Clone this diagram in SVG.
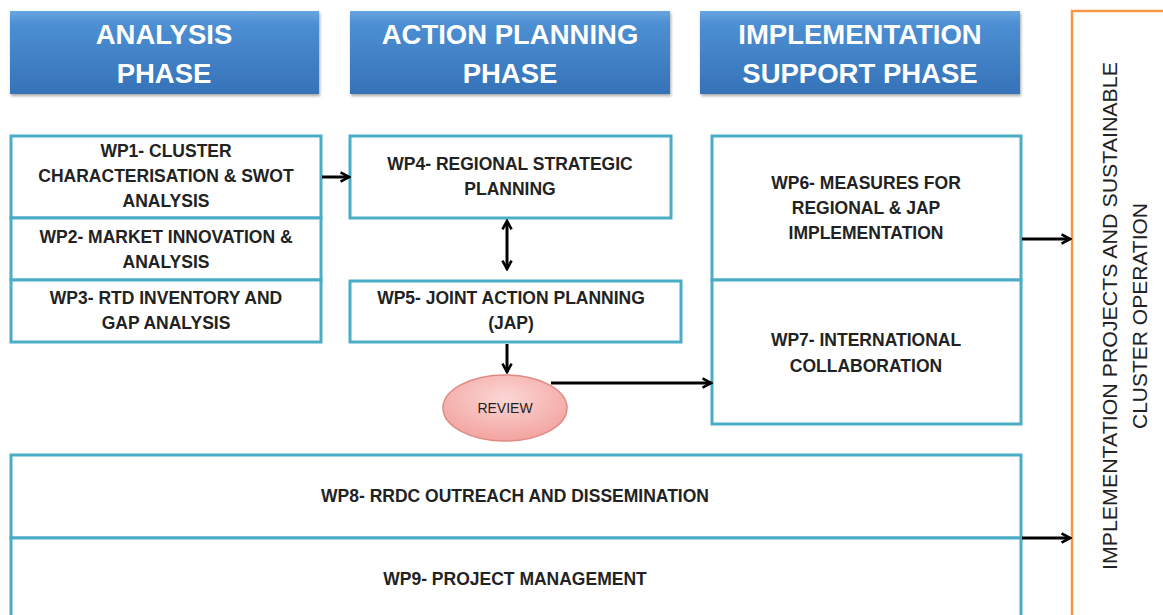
<svg xmlns="http://www.w3.org/2000/svg" width="1163" height="615" viewBox="0 0 1163 615">
<defs>
<linearGradient id="hg" x1="0" y1="0" x2="0" y2="1">
<stop offset="0" stop-color="#6aa6e0"/>
<stop offset="0.15" stop-color="#4d8fd3"/>
<stop offset="1" stop-color="#3572b8"/>
</linearGradient>
<radialGradient id="rg" cx="0.5" cy="0.35" r="0.7">
<stop offset="0" stop-color="#fbd6d4"/>
<stop offset="1" stop-color="#f2a09c"/>
</radialGradient>
<filter id="sh" x="-5%" y="-5%" width="110%" height="120%">
<feDropShadow dx="1" dy="2" stdDeviation="1.5" flood-color="#000" flood-opacity="0.35"/>
</filter>
<marker id="ah" viewBox="0 0 10 10" refX="8.5" refY="5" markerWidth="13" markerHeight="13" orient="auto-start-reverse" markerUnits="userSpaceOnUse">
<path d="M2,1.5 L8.5,5 L2,8.5" fill="none" stroke="#000" stroke-width="2"/>
</marker>
</defs>
<style>
.hdr{fill:url(#hg);filter:url(#sh)}
.ht{font-family:"Liberation Sans",Arial,sans-serif;font-weight:bold;font-size:27.5px;fill:#fff;text-anchor:middle}
.box{fill:#fff;stroke:#4bacc6;stroke-width:3}
.t{font-family:"Liberation Sans",Arial,sans-serif;font-weight:bold;font-size:17.5px;fill:#222;text-anchor:middle}
.v{font-family:"Liberation Sans",Arial,sans-serif;font-size:20px;fill:#222;text-anchor:middle}
.c{fill:none;stroke:#000;stroke-width:3}
</style>
<rect width="1163" height="615" fill="#fff"/>
<g id="hdr-analysis">
<rect class="hdr" x="10" y="11" width="309" height="83"/>
<text class="ht" x="164" y="44">ANALYSIS</text>
<text class="ht" x="164" y="83">PHASE</text>
</g>
<g id="hdr-action">
<rect class="hdr" x="350" y="11" width="320" height="83"/>
<text class="ht" x="510" y="44">ACTION PLANNING</text>
<text class="ht" x="510" y="83">PHASE</text>
</g>
<g id="hdr-impl">
<rect class="hdr" x="700" y="11" width="320" height="83"/>
<text class="ht" x="860" y="44">IMPLEMENTATION</text>
<text class="ht" x="860" y="83">SUPPORT PHASE</text>
</g>
<g id="outcome">
<rect x="1072" y="11" width="120" height="620" fill="#fff" stroke="#f79646" stroke-width="2.5"/>
<text class="v" transform="translate(1117,316) rotate(-90)" textLength="508" lengthAdjust="spacingAndGlyphs">IMPLEMENTATION PROJECTS AND SUSTAINABLE</text>
<text class="v" transform="translate(1147,316) rotate(-90)" textLength="226" lengthAdjust="spacingAndGlyphs">CLUSTER OPERATION</text>
</g>
<g id="wp1">
<rect class="box" x="11" y="136" width="310" height="82"/>
<text class="t" x="166" y="157">WP1- CLUSTER</text>
<text class="t" x="166" y="182">CHARACTERISATION &amp; SWOT</text>
<text class="t" x="166" y="207">ANALYSIS</text>
</g>
<g id="wp2">
<rect class="box" x="11" y="218" width="310" height="62"/>
<text class="t" x="166" y="243">WP2- MARKET INNOVATION &amp;</text>
<text class="t" x="166" y="268">ANALYSIS</text>
</g>
<g id="wp3">
<rect class="box" x="11" y="280" width="310" height="62"/>
<text class="t" x="166" y="304">WP3- RTD INVENTORY AND</text>
<text class="t" x="166" y="329">GAP ANALYSIS</text>
</g>
<g id="wp4">
<rect class="box" x="350" y="136" width="321" height="82"/>
<text class="t" x="510" y="170">WP4- REGIONAL STRATEGIC</text>
<text class="t" x="510" y="195">PLANNING</text>
</g>
<g id="wp5">
<rect class="box" x="350" y="281" width="331" height="61"/>
<text class="t" x="511" y="304">WP5- JOINT ACTION PLANNING</text>
<text class="t" x="511" y="329">(JAP)</text>
</g>
<g id="review">
<ellipse cx="505" cy="408" rx="62" ry="33" fill="url(#rg)" stroke="#e08a86" stroke-width="1.5"/>
<text class="t" x="505" y="413" style="font-weight:normal;font-size:14px">REVIEW</text>
</g>
<g id="wp6">
<rect class="box" x="712" y="136" width="309" height="144"/>
<text class="t" x="866" y="189">WP6- MEASURES FOR</text>
<text class="t" x="866" y="214">REGIONAL &amp; JAP</text>
<text class="t" x="866" y="239">IMPLEMENTATION</text>
</g>
<g id="wp7">
<rect class="box" x="712" y="280" width="309" height="144"/>
<text class="t" x="866" y="346">WP7- INTERNATIONAL</text>
<text class="t" x="866" y="372">COLLABORATION</text>
</g>
<g id="wp8">
<rect class="box" x="11" y="455" width="1010" height="83"/>
<text class="t" x="515" y="502">WP8- RRDC OUTREACH AND DISSEMINATION</text>
</g>
<g id="wp9">
<rect class="box" x="11" y="538" width="1010" height="90"/>
<text class="t" x="515" y="585">WP9- PROJECT MANAGEMENT</text>
</g>
<g id="connectors">
<line class="c" x1="322" y1="177" x2="349" y2="177" marker-end="url(#ah)"/>
<line class="c" x1="507" y1="221" x2="507" y2="269" marker-start="url(#ah)" marker-end="url(#ah)"/>
<line class="c" x1="507" y1="344" x2="507" y2="372" marker-end="url(#ah)"/>
<line class="c" x1="551" y1="383" x2="711" y2="383" marker-end="url(#ah)"/>
<line class="c" x1="1022" y1="239" x2="1070" y2="239" marker-end="url(#ah)"/>
<line class="c" x1="1022" y1="538" x2="1070" y2="538" marker-end="url(#ah)"/>
</g>
</svg>
